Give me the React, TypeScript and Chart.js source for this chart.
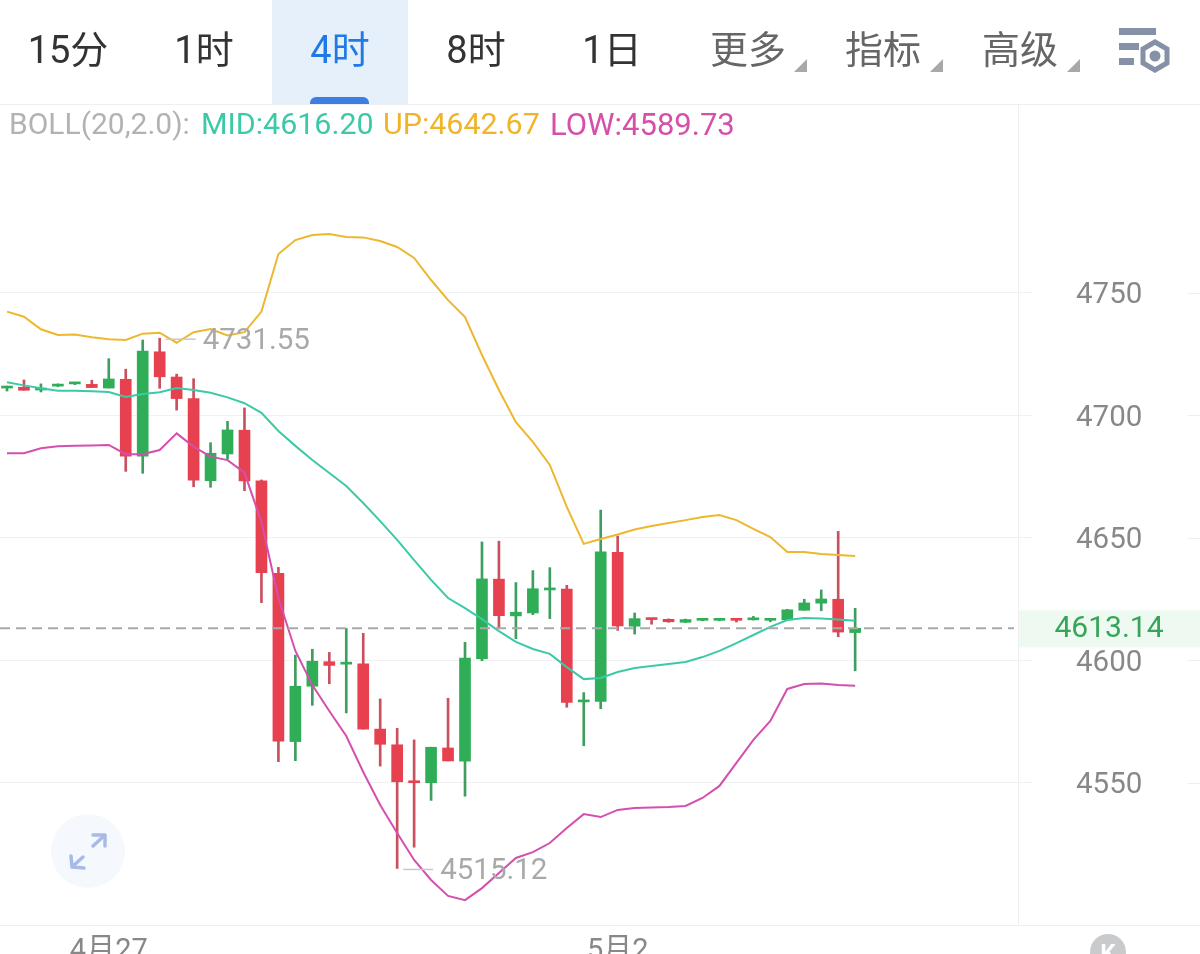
import React, { useEffect, useRef } from "react";
import { Chart, registerables } from "chart.js";

Chart.register(...registerables);

const FONT = 'Roboto, "Noto Sans CJK SC", sans-serif';

// Candles
const opens = [4711.2,4711.5,4710.4,4712.0,4712.9,4712.7,4711.2,4714.8,4683.4,4726.0,4715.7,4706.9,4673.4,4684.3,4694.0,4673.3,4635.6,4566.9,4589.5,4599.5,4598.5,4598.6,4572.0,4565.6,4550.8,4550.1,4564.3,4558.9,4600.7,4633.2,4618.2,4619.4,4628.8,4629.2,4583.1,4583.3,4644.2,4614.0,4617.2,4616.8,4615.6,4616.4,4616.4,4616.9,4616.6,4616.4,4616.6,4620.5,4623.4,4625.0,4611.4];
const closes = [4711.6,4710.3,4711.2,4712.2,4713.1,4711.4,4714.9,4683.4,4726.3,4715.8,4706.9,4673.6,4684.6,4694.1,4673.3,4635.8,4567.1,4589.5,4599.7,4598.0,4598.9,4572.0,4565.8,4550.5,4550.1,4564.6,4559.0,4601.0,4633.3,4618.3,4619.7,4629.3,4629.6,4582.9,4583.8,4644.4,4614.1,4617.1,4616.7,4615.8,4616.7,4616.9,4616.9,4616.4,4617.1,4616.9,4620.7,4623.5,4625.1,4611.6,4613.14];
const highs = [4712.0,4714.5,4712.9,4712.9,4713.6,4714.4,4723.2,4718.9,4730.8,4731.55,4716.9,4715.0,4688.9,4697.6,4703.1,4673.7,4638.0,4602.2,4604.6,4603.3,4613.1,4611.1,4584.3,4572.3,4567.6,4564.6,4584.6,4607.4,4648.4,4648.7,4631.8,4636.7,4637.9,4630.7,4586.9,4661.4,4650.8,4619.4,4617.2,4617.0,4616.9,4617.1,4617.1,4617.0,4618.0,4617.0,4620.9,4625.0,4628.8,4652.7,4621.3];
const lows = [4710.0,4710.3,4709.6,4711.8,4712.6,4711.4,4711.2,4677.2,4676.4,4711.1,4702.2,4670.9,4670.7,4682.2,4669.3,4623.6,4558.7,4559.1,4581.7,4590.5,4578.6,4572.0,4556.9,4515.12,4523.8,4542.9,4559.0,4544.6,4599.9,4613.4,4608.9,4618.7,4617.1,4580.9,4565.2,4580.3,4612.3,4610.8,4614.8,4615.6,4615.5,4616.2,4616.2,4615.7,4616.5,4615.8,4616.4,4620.5,4620.3,4609.7,4595.8];

// BOLL(20,2.0)
const bollUp = [4742.4,4740.3,4735.2,4732.9,4733.1,4731.9,4731.1,4730.8,4733.4,4733.8,4729.7,4734.0,4735.3,4732.7,4734.0,4742.4,4765.9,4771.6,4773.7,4774.1,4772.9,4772.7,4771.2,4768.8,4764.3,4755.3,4747.1,4740.2,4724.7,4710.4,4697.3,4689.2,4679.8,4662.7,4647.6,4649.6,4651.4,4653.5,4654.9,4656.1,4657.3,4658.6,4659.4,4657.3,4653.7,4650.4,4644.3,4644.3,4643.5,4643.1,4642.67];
const bollMid = [4713.6,4712.3,4711.1,4710.1,4710.1,4709.9,4709.6,4707.6,4708.8,4709.5,4711.2,4710.4,4709.3,4707.4,4705.0,4701.1,4693.7,4687.6,4681.8,4676.5,4671.2,4664.3,4656.9,4649.2,4641.0,4632.9,4625.5,4621.4,4616.9,4612.0,4607.6,4604.7,4602.7,4597.3,4592.4,4592.9,4595.3,4596.9,4597.8,4598.6,4599.4,4601.4,4603.9,4607.1,4610.4,4613.7,4616.5,4617.3,4617.1,4616.7,4616.2];
const bollLow = [4684.6,4684.6,4686.6,4687.4,4687.7,4687.8,4688.0,4684.2,4684.2,4685.9,4692.7,4687.3,4683.2,4681.8,4676.7,4656.5,4625.5,4603.9,4590.0,4579.4,4569.2,4554.5,4541.0,4529.6,4518.6,4510.4,4503.9,4502.2,4507.1,4513.3,4519.4,4521.8,4525.5,4531.6,4537.3,4536.1,4539.0,4539.8,4540.0,4540.2,4540.6,4543.9,4548.8,4558.2,4567.6,4575.3,4588.4,4590.4,4590.6,4590.0,4589.73];

// Axis contents
const priceTicks = [4550, 4600, 4650, 4700, 4750];
const dateTickIndexes = [6, 36];
const dateTickLabels = ["4月27", "5月2"];
const lastPrice = 4613.14;
const maxPrice = 4731.55;
const maxIndex = 9;
const minPrice = 4515.12;
const minIndex = 23;

// Page furniture
const tabs = ["15分", "1时", "4时", "8时", "1日"];
const menus = ["更多", "指标", "高级"];

const UP = "#2fae57";
const DOWN = "#e7404f";
const UP_WICK = "#3f9d60";
const DOWN_WICK = "#c9505f";

const overlay = {
  id: "overlay",
  afterDatasetsDraw(chart: any) {
    const { ctx, scales, chartArea } = chart;
    const y = scales.y;
    const x = scales.x;
    ctx.save();
    // frame hairlines
    ctx.strokeStyle = "#efefef";
    ctx.lineWidth = 1;
    ctx.beginPath();
    ctx.moveTo(0, chartArea.top + 0.5);
    ctx.lineTo(1200, chartArea.top + 0.5);
    ctx.moveTo(0, chartArea.bottom + 0.5);
    ctx.lineTo(1200, chartArea.bottom + 0.5);
    for (const t of priceTicks) {
      const py = Math.round(y.getPixelForValue(t)) + 0.5;
      ctx.moveTo(1188, py);
      ctx.lineTo(1200, py);
    }
    ctx.stroke();

    // last price line
    const lp = y.getPixelForValue(lastPrice);
    ctx.strokeStyle = "#a9a9a9";
    ctx.lineWidth = 2;
    ctx.setLineDash([10, 6]);
    ctx.beginPath();
    ctx.moveTo(0, lp);
    ctx.lineTo(chartArea.right - 4, lp);
    ctx.stroke();
    ctx.setLineDash([]);

    // last price box
    ctx.fillStyle = "#eef9f1";
    ctx.fillRect(chartArea.right + 1, lp - 18, 1200 - chartArea.right, 37);
    ctx.fillStyle = "#35a557";
    ctx.font = `30px ${FONT}`;
    ctx.textAlign = "center";
    ctx.textBaseline = "middle";
    ctx.fillText(lastPrice.toFixed(2), 1109, lp + 1);

    // high / low markers
    const mark = (idx: number, price: number, label: string, dy: number) => {
      const px = x.getPixelForValue(idx);
      const py = y.getPixelForValue(price);
      ctx.strokeStyle = "#c8c8c8";
      ctx.lineWidth = 1.5;
      ctx.beginPath();
      ctx.moveTo(px + 6, py + 1);
      ctx.lineTo(px + 36, py + 1);
      ctx.stroke();
      ctx.fillStyle = "#a9a9a9";
      ctx.font = `29.5px ${FONT}`;
      ctx.textAlign = "left";
      ctx.fillText(label, px + 43, py + dy);
    };
    mark(maxIndex, maxPrice, maxPrice.toFixed(2), 3.5);
    mark(minIndex, minPrice, minPrice.toFixed(2), 3);
    ctx.restore();
  },
};

const xy = (values: number[]) => values.map((v, i) => ({ x: i, y: v }));

export default function App() {
  const ref = useRef<HTMLCanvasElement>(null);

  useEffect(() => {
    document.documentElement.style.overflow = "hidden";
    const isUp = closes.map((c, i) => c >= opens[i]);
    const lineStyle = { type: "line", borderWidth: 2, pointRadius: 0, tension: 0, order: 0 };
    const chart = new Chart(ref.current as HTMLCanvasElement, {
      type: "bar",
      data: {
        datasets: [
          { ...lineStyle, label: "UP", data: xy(bollUp), borderColor: "#edb72e" },
          { ...lineStyle, label: "MID", data: xy(bollMid), borderColor: "#3cc9a8" },
          { ...lineStyle, label: "LOW", data: xy(bollLow), borderColor: "#d44fae" },
          {
            type: "bar",
            label: "body",
            data: opens.map((o, i) => ({ x: i, y: [o, closes[i]] })),
            backgroundColor: isUp.map((u) => (u ? UP : DOWN)),
            barThickness: 11,
            minBarLength: 2,
            grouped: false,
            order: 1,
          },
          {
            type: "bar",
            label: "wick",
            data: lows.map((l, i) => ({ x: i, y: [l, highs[i]] })),
            backgroundColor: isUp.map((u) => (u ? UP_WICK : DOWN_WICK)),
            barThickness: 2,
            grouped: false,
            order: 2,
          },
        ],
      } as any,
      options: {
        animation: false,
        responsive: false,
        events: [],
        layout: { padding: { top: 104, left: 0, right: 0, bottom: 0 } },
        plugins: { legend: { display: false }, tooltip: { enabled: false } },
        scales: {
          x: {
            type: "linear",
            offset: false,
            min: -0.413,
            max: 59.6,
            afterBuildTicks: (s: any) => {
              s.ticks = dateTickIndexes.map((v) => ({ value: v }));
            },
            afterFit: (s: any) => {
              s.height = 29;
              s.paddingLeft = 0;
              s.paddingRight = 0;
              s.paddingTop = 0;
              s.paddingBottom = 0;
            },
            grid: { display: false, offset: false },
            border: { display: false },
            ticks: {
              autoSkip: false,
              maxRotation: 0,
              padding: 1,
              color: "#888888",
              font: { size: 29, family: FONT },
              callback: (v: any) => dateTickLabels[dateTickIndexes.indexOf(Number(v))] ?? "",
            },
          },
          y: {
            type: "linear",
            position: "right",
            min: 4492.04,
            max: 4827.14,
            afterBuildTicks: (s: any) => {
              s.ticks = priceTicks.map((v) => ({ value: v }));
            },
            afterFit: (s: any) => {
              s.width = 182;
              s.paddingTop = 0;
              s.paddingBottom = 0;
            },
            grid: { color: "#f1f1f1", lineWidth: 1, tickLength: 14, tickColor: "#f1f1f1" },
            border: { display: true, color: "#efefef", width: 1 },
            ticks: {
              padding: 44,
              crossAlign: "near",
              labelOffset: 3,
              color: "#888888",
              font: { size: 29.5, family: FONT },
              callback: (v: any) => String(v),
            },
          },
        },
      } as any,
      plugins: [overlay],
    });
    return () => chart.destroy();
  }, []);

  const abs = (style: React.CSSProperties): React.CSSProperties => ({
    position: "absolute",
    lineHeight: 1,
    whiteSpace: "nowrap",
    fontFamily: FONT,
    ...style,
  });

  return (
    <div style={{ position: "fixed", left: 0, top: 0, width: 1200, height: 954, background: "#fff", overflow: "hidden" }}>
      <canvas ref={ref} width={1200} height={954} style={{ position: "absolute", left: 0, top: 0, width: 1200, height: 954 }} />

      <div style={abs({ left: 272, top: 0, width: 136, height: 104, background: "#e5f0fb" })} />
      <div style={abs({ left: 310, top: 97, width: 59, height: 7, background: "#3d7fe0", borderRadius: "6px 6px 0 0" })} />
      {tabs.map((t, i) => (
        <div
          key={t}
          style={abs({
            left: [68, 204, 340, 476, 612][i],
            top: 31,
            transform: "translateX(-50%)",
            fontSize: 38,
            color: i === 2 ? "#1f7ae6" : "#333333",
          })}
        >
          {t}
        </div>
      ))}
      {menus.map((t, i) => (
        <div key={t} style={abs({ left: [710, 845, 982][i], top: 31, fontSize: 38, color: "#666666" })}>
          {t}
        </div>
      ))}

      <svg width={1200} height={954} style={{ position: "absolute", left: 0, top: 0, pointerEvents: "none" }}>
        {[807, 943, 1080].map((r) => (
          <polygon key={r} points={`${r},59 ${r},72 ${r - 13},72`} fill="#a8a8a8" />
        ))}
        <g fill="#8591a6">
          <rect x={1119} y={28} width={37} height={7} />
          <rect x={1119} y={43} width={20} height={7} />
          <rect x={1119} y={58} width={15} height={7} />
          <circle cx={1155} cy={56} r={5.5} />
        </g>
        <polygon
          points="1155,42 1167,49 1167,63 1155,70 1143,63 1143,49"
          fill="none"
          stroke="#8591a6"
          strokeWidth={5}
        />
        <circle cx={88} cy={851} r={37} fill="#f5f8fd" />
        <g fill="none" stroke="#a8bbe8" strokeWidth={3.5} strokeLinecap="round" strokeLinejoin="round">
          <path d="M 93 846 L 105 835 M 93 835 L 105 835 L 105 846" />
          <path d="M 83 857 L 72 867 M 71 856 L 72 867 L 84 868" />
        </g>
        <circle cx={1108} cy={952} r={18} fill="#c8cacc" />
        <text x={1108} y={961} textAnchor="middle" fontFamily={FONT} fontSize={24} fontWeight={700} fill="#ffffff">
          K
        </text>
      </svg>

      <div style={abs({ left: 9, top: 109, fontSize: 30, color: "#b2b2b2" })}>BOLL(20,2.0):</div>
      <div style={abs({ left: 201, top: 109, fontSize: 30.4, color: "#3cc9a8" })}>MID:4616.20</div>
      <div style={abs({ left: 383, top: 109, fontSize: 30.4, color: "#f0b428" })}>UP:4642.67</div>
      <div style={abs({ left: 550, top: 109, fontSize: 31, color: "#d64fa8" })}>LOW:4589.73</div>
    </div>
  );
}
